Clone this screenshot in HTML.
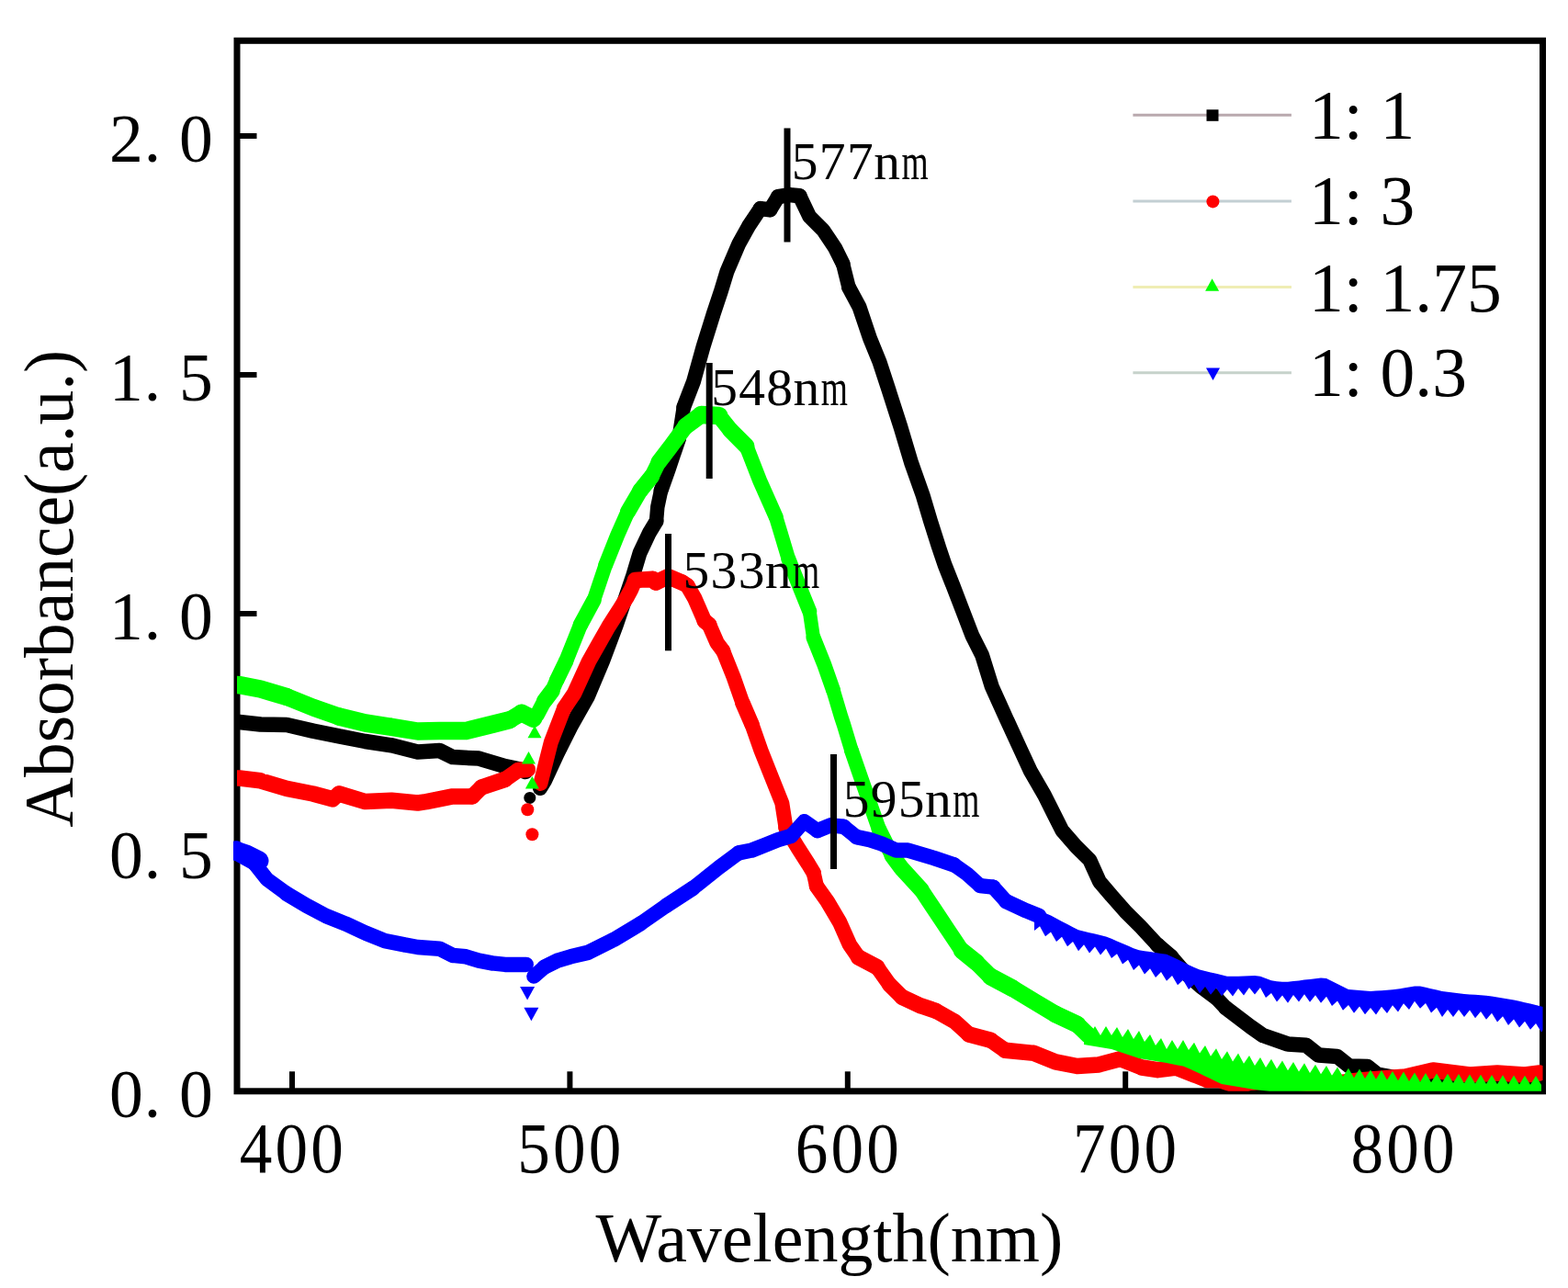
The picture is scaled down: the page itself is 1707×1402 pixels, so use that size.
<!DOCTYPE html>
<html><head><meta charset="utf-8"><title>Absorbance spectra</title>
<style>html,body{margin:0;padding:0;background:#fff;}body{width:1707px;height:1402px;overflow:hidden;}svg{display:block;}</style>
</head><body>
<svg width="1707" height="1402" viewBox="0 0 1707 1402"><defs><clipPath id="pc"><rect x="258.0" y="44.3" width="1421.5" height="1143.5"/></clipPath><clipPath id="pcb"><rect x="254" y="44.3" width="1425.5" height="1143.5"/></clipPath></defs><rect width="1707" height="1402" fill="#fff"/><rect x="258.0" y="44.3" width="1421.5" height="1143.5" fill="none" stroke="#000" stroke-width="7"/><line x1="258.0" y1="1188.0" x2="279.5" y2="1188.0" stroke="#000" stroke-width="6"/><line x1="258.0" y1="928.0" x2="279.5" y2="928.0" stroke="#000" stroke-width="6"/><line x1="258.0" y1="668.0" x2="279.5" y2="668.0" stroke="#000" stroke-width="6"/><line x1="258.0" y1="408.0" x2="279.5" y2="408.0" stroke="#000" stroke-width="6"/><line x1="258.0" y1="148.0" x2="279.5" y2="148.0" stroke="#000" stroke-width="6"/><line x1="318.0" y1="1187.8" x2="318.0" y2="1166.3" stroke="#000" stroke-width="6"/><line x1="620.4" y1="1187.8" x2="620.4" y2="1166.3" stroke="#000" stroke-width="6"/><line x1="922.8" y1="1187.8" x2="922.8" y2="1166.3" stroke="#000" stroke-width="6"/><line x1="1225.2" y1="1187.8" x2="1225.2" y2="1166.3" stroke="#000" stroke-width="6"/><line x1="1527.6" y1="1187.8" x2="1527.6" y2="1166.3" stroke="#000" stroke-width="6"/><g clip-path="url(#pc)"><path d="M258.0,786.0L260.7,786.0M260.7,786.0L283.5,788.5M283.5,788.5L312.1,789.0M312.1,789.0L340.6,795.6M340.6,795.6L369.1,801.3M369.1,801.3L397.7,807.0M397.7,807.0L426.2,811.3M426.2,811.3L454.7,818.4M454.7,818.4L478.5,817.0M478.5,817.0L492.8,824.1M492.8,824.1L521.3,825.6M521.3,825.6L549.9,834.1M549.9,834.1L564.1,837.0M564.1,837.0L572.0,840.0" fill="none" stroke="#000" stroke-width="16.5" stroke-linecap="round"/><circle cx="576.8" cy="868.4" r="6.5" fill="#000"/><path d="M714.5,567.3L715.8,551.9M715.8,551.9L719.6,533.9M738.9,478.0L744.3,443.2M917.6,287.0L924.0,312.7" fill="none" stroke="#000" stroke-width="15.5" stroke-linecap="round"/><path d="M588.0,858.0L593.5,849.0M593.5,849.0L606.9,819.9M606.9,819.9L621.2,791.3M621.2,791.3L640.0,758.0M640.0,758.0L656.0,720.0M656.0,720.0L671.0,680.0M671.0,680.0L688.8,627.7M688.8,627.7L696.5,602.0M696.5,602.0L706.8,580.2M706.8,580.2L714.5,567.3M719.6,533.9L727.3,512.1M727.3,512.1L733.8,492.8M733.8,492.8L738.9,478.0M744.3,443.2L755.0,415.4M755.0,415.4L765.7,376.9M765.7,376.9L776.4,342.6M776.4,342.6L784.9,317.0M784.9,317.0L791.4,295.6M791.4,295.6L804.2,265.6M804.2,265.6L814.9,246.3M814.9,246.3L827.7,227.1M838.4,228.2L847.0,214.2M870.5,213.2L881.2,235.6M881.2,235.6L896.2,250.6M896.2,250.6L909.1,269.9M909.1,269.9L917.6,287.0M924.0,312.7L935.5,334.1M935.5,334.1L947.0,368.3M947.0,368.3L957.5,394.0M957.5,394.0L968.0,426.1M968.0,426.1L980.5,465.0M980.5,465.0L992.0,503.5M992.0,503.5L1004.9,539.9M1004.9,539.9L1012.5,565.6M1012.5,565.6L1022.0,595.5M1022.0,595.5L1028.5,614.8M1028.5,614.8L1037.0,636.2M1037.0,636.2L1047.7,664.0M1047.7,664.0L1058.4,691.8M1058.4,691.8L1069.1,713.2M1069.1,713.2L1079.8,747.5M1079.8,747.5L1096.4,784.2M1096.4,784.2L1109.2,812.0M1109.2,812.0L1122.1,839.8M1122.1,839.8L1137.0,865.5M1137.0,865.5L1147.7,886.9M1147.7,886.9L1156.3,904.0M1156.3,904.0L1171.3,921.2M1171.3,921.2L1186.3,936.1M1186.3,936.1L1197.0,959.7M1197.0,959.7L1209.8,974.7M1209.8,974.7L1224.8,991.8M1224.8,991.8L1241.9,1008.9M1241.9,1008.9L1259.9,1028.4M1274.9,1041.2L1289.9,1058.4M1324.1,1086.2L1334.3,1097.0" fill="none" stroke="#000" stroke-width="16.0" stroke-linecap="round"/><path d="M827.7,227.1L838.4,228.2M847.0,214.2L859.8,212.1M859.8,212.1L870.5,213.2M1259.9,1028.4L1274.9,1041.2M1289.9,1058.4L1307.0,1073.3M1307.0,1073.3L1324.1,1086.2M1334.3,1097.0L1361.3,1117.5M1361.3,1117.5L1374.8,1127.0M1374.8,1127.0L1401.7,1136.4M1401.7,1136.4L1421.9,1137.7M1421.9,1137.7L1435.4,1148.5M1435.4,1148.5L1455.6,1149.9M1455.6,1149.9L1469.1,1160.6M1469.1,1160.6L1488.9,1161.1M1488.9,1161.1L1499.6,1169.6M1499.6,1169.6L1530.0,1175.0M1530.0,1175.0L1580.0,1177.0M1580.0,1177.0L1630.0,1177.0M1630.0,1177.0L1676.0,1177.0" fill="none" stroke="#000" stroke-width="16.5" stroke-linecap="round"/><path d="M362.0,869.8L369.1,864.0M514.2,866.9L524.2,857.0M549.9,848.4L564.1,838.4" fill="none" stroke="#f00" stroke-width="17.0" stroke-linecap="round"/><path d="M258.0,847.0L260.7,847.0M260.7,847.0L283.5,849.8M283.5,849.8L312.1,858.4M312.1,858.4L340.6,864.0M340.6,864.0L362.0,869.8M369.1,864.0L397.7,872.6M397.7,872.6L426.2,871.2M426.2,871.2L454.7,874.0M454.7,874.0L464.3,872.6M464.3,872.6L492.8,866.9M492.8,866.9L514.2,866.9M524.2,857.0L549.9,848.4M564.1,838.4L574.3,837.6" fill="none" stroke="#f00" stroke-width="17.5" stroke-linecap="round"/><circle cx="574.3" cy="881.2" r="7" fill="#f00"/><circle cx="579.4" cy="908.2" r="7" fill="#f00"/><path d="M588.4,853.0L599.8,808.0M599.8,808.0L614.1,771.0M787.1,708.4L798.5,736.9M798.5,736.9L808.5,765.4M818.5,788.5L828.5,817.0M828.5,817.0L839.9,845.6M839.9,845.6L851.3,874.1M851.3,874.1L855.5,901.0M885.7,950.0L889.0,964.7" fill="none" stroke="#f00" stroke-width="16.0" stroke-linecap="round"/><path d="M614.1,771.0L625.0,755.0M625.0,755.0L641.0,720.0M641.0,720.0L652.5,699.6M652.5,699.6L662.5,682.0M662.5,682.0L674.0,664.0M674.0,664.0L682.0,651.0M682.0,651.0L687.0,641.8M687.0,641.8L691.4,631.6M748.3,637.5L756.0,650.8M756.0,650.8L767.0,676.0M772.0,679.9L780.5,699.6M780.5,699.6L787.1,708.4M808.5,765.4L818.5,788.5M855.5,901.0L868.6,922.7M868.6,922.7L879.8,940.3M879.8,940.3L885.7,950.0M889.0,964.7L900.6,981.0M900.6,981.0L914.2,1004.0M914.2,1004.0L925.0,1028.4M925.0,1028.4L934.5,1042.0M954.9,1052.8L968.4,1071.8" fill="none" stroke="#f00" stroke-width="16.5" stroke-linecap="round"/><path d="M710.6,630.3L714.0,634.0M742.7,634.1L748.3,637.5M767.0,676.0L772.0,679.9M968.4,1071.8L982.0,1085.3M1018.5,1100.2L1039.2,1111.8M1039.2,1111.8L1054.9,1126.0M1078.5,1132.2L1094.2,1143.2" fill="none" stroke="#f00" stroke-width="17.0" stroke-linecap="round"/><path d="M691.4,631.6L710.6,630.3M714.0,634.0L727.3,627.7M727.3,627.7L742.7,634.1M934.5,1042.0L954.9,1052.8M982.0,1085.3L1002.3,1094.8M1002.3,1094.8L1018.5,1100.2M1054.9,1126.0L1078.5,1132.2M1094.2,1143.2L1125.5,1146.4M1125.5,1146.4L1149.1,1155.8M1149.1,1155.8L1172.6,1160.5M1172.6,1160.5L1196.2,1158.9M1196.2,1158.9L1219.7,1152.6M1219.7,1152.6L1243.2,1162.0M1243.2,1162.0L1260.2,1164.7M1260.2,1164.7L1280.4,1162.0M1280.4,1162.0L1300.6,1170.0M1300.6,1170.0L1314.1,1175.5M1314.1,1175.5L1327.6,1175.5M1327.6,1175.5L1347.8,1182.2M1347.8,1182.2L1361.3,1178.2M1361.3,1178.2L1392.3,1176.0M1392.3,1176.0L1439.5,1181.0M1439.5,1181.0L1480.0,1176.0M1480.0,1176.0L1530.0,1172.0M1530.0,1172.0L1560.0,1165.0M1560.0,1165.0L1600.0,1170.0M1600.0,1170.0L1630.0,1168.0M1630.0,1168.0L1660.0,1170.0M1660.0,1170.0L1676.0,1168.0" fill="none" stroke="#f00" stroke-width="17.5" stroke-linecap="round"/><path d="M555.0,783.6L567.8,776.0" fill="none" stroke="#00ff00" stroke-width="18.5" stroke-linecap="round"/><path d="M312.1,758.5L340.6,770.0M340.6,770.0L369.1,780.0M567.8,776.0L580.7,782.4" fill="none" stroke="#00ff00" stroke-width="19.0" stroke-linecap="round"/><path d="M258.0,745.5L260.7,745.7M260.7,745.7L283.5,750.0M283.5,750.0L312.1,758.5M369.1,780.0L397.7,787.0M397.7,787.0L426.2,791.3M426.2,791.3L454.7,796.0M454.7,796.0L478.5,795.6M478.5,795.6L507.1,795.6M507.1,795.6L535.6,788.5M535.6,788.5L555.0,783.6" fill="none" stroke="#00ff00" stroke-width="19.5" stroke-linecap="round"/><path d="M574.5,803.2 L589.5,803.2 L582.0,789.8 Z" fill="#00ff00"/><path d="M568.0,831.5 L583.0,831.5 L575.5,818.0 Z" fill="#00ff00"/><path d="M571.9,858.5 L586.9,858.5 L579.4,845.0 Z" fill="#00ff00"/><path d="M881.3,665.6L885.5,694.1" fill="none" stroke="#00ff00" stroke-width="15.0" stroke-linecap="round"/><path d="M646.4,653.4L659.3,614.9M844.6,562.6L849.9,580.0M849.9,580.0L858.4,608.5M907.0,751.2L915.5,779.7M915.5,779.7L918.4,788.5M918.4,788.5L927.0,817.0" fill="none" stroke="#00ff00" stroke-width="15.5" stroke-linecap="round"/><path d="M601.0,752.0L606.3,740.0M616.0,720.0L632.0,680.0M659.3,614.9L672.1,582.7M672.1,582.7L683.5,557.1M812.5,485.6L827.5,524.1M827.5,524.1L844.6,562.6M858.4,608.5L869.8,637.0M869.8,637.0L881.3,665.6M885.5,694.1L897.0,722.7M897.0,722.7L907.0,751.2M927.0,817.0L936.9,845.6M936.9,845.6L946.9,874.1M946.9,874.1L956.9,902.7" fill="none" stroke="#00ff00" stroke-width="16.0" stroke-linecap="round"/><path d="M584.5,778.5L592.7,763.0M606.3,740.0L616.0,720.0M632.0,680.0L646.4,653.4M709.5,518.5L717.1,503.1M956.9,902.7L971.2,931.2" fill="none" stroke="#00ff00" stroke-width="16.5" stroke-linecap="round"/><path d="M683.5,557.1L697.0,533.9M1002.8,968.4L1015.7,987.8M1015.7,987.8L1031.4,1011.4M1031.4,1011.4L1047.1,1034.9" fill="none" stroke="#00ff00" stroke-width="17.0" stroke-linecap="round"/><path d="M592.7,763.0L601.0,752.0M697.0,533.9L709.5,518.5M717.1,503.1L729.9,486.4M729.9,486.4L746.2,464.2M782.6,452.4L795.4,468.5M971.2,931.2L981.4,945.0M981.4,945.0L1002.8,968.4" fill="none" stroke="#00ff00" stroke-width="17.5" stroke-linecap="round"/><path d="M795.4,468.5L812.5,485.6M1062.8,1047.5L1078.5,1063.2M1172.6,1115.0L1185.0,1127.0" fill="none" stroke="#00ff00" stroke-width="18.0" stroke-linecap="round"/><path d="M746.2,464.2L763.3,451.4M1047.1,1034.9L1062.8,1047.5M1102.0,1075.7L1125.5,1089.9M1125.5,1089.9L1149.1,1104.0" fill="none" stroke="#00ff00" stroke-width="18.5" stroke-linecap="round"/><path d="M1078.5,1063.2L1102.0,1075.7M1149.1,1104.0L1172.6,1115.0" fill="none" stroke="#00ff00" stroke-width="19.0" stroke-linecap="round"/><path d="M763.3,451.4L782.6,452.4" fill="none" stroke="#00ff00" stroke-width="19.5" stroke-linecap="round"/><polygon points="1180.0,1117.0 1186.0,1127.0 1192.0,1117.0 1198.0,1127.0 1204.0,1117.0 1210.0,1127.0 1216.0,1118.0 1222.0,1129.0 1228.0,1120.0 1234.0,1131.0 1240.0,1122.0 1246.0,1134.0 1252.0,1126.0 1258.0,1138.0 1264.0,1130.0 1270.0,1142.0 1276.0,1132.0 1282.0,1142.0 1288.0,1132.0 1294.0,1143.1 1300.0,1134.8 1306.0,1146.4 1312.0,1138.0 1318.0,1149.7 1324.0,1141.3 1330.0,1153.0 1336.0,1144.2 1342.0,1155.4 1348.0,1146.6 1354.0,1157.8 1360.0,1149.0 1366.0,1160.1 1372.0,1151.0 1378.0,1161.9 1384.0,1152.7 1390.0,1163.6 1396.0,1154.4 1402.0,1165.2 1408.0,1155.9 1414.0,1166.6 1420.0,1157.3 1426.0,1168.0 1432.0,1158.7 1438.0,1169.3 1444.0,1160.0 1450.0,1170.7 1456.0,1161.4 1462.0,1172.1 1468.0,1162.8 1474.0,1173.2 1480.0,1163.6 1486.0,1174.0 1492.0,1164.4 1498.0,1174.8 1504.0,1165.1 1510.0,1175.5 1516.0,1165.9 1522.0,1176.2 1528.0,1166.6 1534.0,1177.0 1540.0,1167.4 1546.0,1177.8 1552.0,1168.1 1558.0,1178.2 1564.0,1168.4 1570.0,1178.6 1576.0,1168.7 1582.0,1178.9 1588.0,1169.1 1594.0,1179.3 1600.0,1169.4 1606.0,1179.6 1612.0,1169.8 1618.0,1179.9 1624.0,1170.1 1630.0,1180.2 1636.0,1170.3 1642.0,1180.4 1648.0,1170.5 1654.0,1180.6 1660.0,1170.7 1666.0,1180.8 1672.0,1170.9 1678.0,1181.0 1678.0,1190.0 1672.0,1190.0 1666.0,1190.0 1660.0,1190.0 1654.0,1190.0 1648.0,1190.0 1642.0,1190.0 1636.0,1190.0 1630.0,1190.0 1624.0,1190.0 1618.0,1190.0 1612.0,1190.0 1606.0,1190.0 1600.0,1190.0 1594.0,1190.0 1588.0,1190.0 1582.0,1190.0 1576.0,1190.0 1570.0,1190.0 1564.0,1190.0 1558.0,1190.0 1552.0,1190.0 1546.0,1190.0 1540.0,1190.0 1534.0,1190.0 1528.0,1190.0 1522.0,1190.0 1516.0,1190.0 1510.0,1190.0 1504.0,1190.0 1498.0,1190.0 1492.0,1190.0 1486.0,1190.0 1480.0,1190.0 1474.0,1190.0 1468.0,1190.0 1462.0,1190.0 1456.0,1190.0 1450.0,1190.0 1444.0,1190.0 1438.0,1190.0 1432.0,1190.0 1426.0,1190.0 1420.0,1190.0 1414.0,1190.0 1408.0,1190.0 1402.0,1190.0 1396.0,1189.5 1390.0,1188.9 1384.0,1188.2 1378.0,1187.5 1372.0,1186.8 1366.0,1186.1 1360.0,1185.1 1354.0,1184.1 1348.0,1183.1 1342.0,1182.1 1336.0,1181.0 1330.0,1180.0 1324.0,1177.2 1318.0,1174.3 1312.0,1171.5 1306.0,1168.6 1300.0,1165.8 1294.0,1162.9 1288.0,1160.6 1282.0,1159.4 1276.0,1158.2 1270.0,1157.0 1264.0,1156.0 1258.0,1155.0 1252.0,1154.0 1246.0,1153.0 1240.0,1152.0 1234.0,1150.0 1228.0,1148.0 1222.0,1146.0 1216.0,1144.0 1210.0,1142.0 1204.0,1141.0 1198.0,1140.0 1192.0,1139.0 1186.0,1138.0 1180.0,1137.0" fill="#00ff00"/></g><g clip-path="url(#pcb)"><path d="M258.0,923.0L262.0,931.0" fill="none" stroke="#0000ff" stroke-width="15.5" stroke-linecap="round"/><path d="M276.4,939.0L290.7,957.1M290.7,957.1L312.1,972.8" fill="none" stroke="#0000ff" stroke-width="16.0" stroke-linecap="round"/><path d="M262.0,931.0L276.4,939.0M312.1,972.8L333.5,985.6M333.5,985.6L354.9,997.0M354.9,997.0L376.3,1005.6M376.3,1005.6L397.7,1015.5M397.7,1015.5L419.0,1024.1M419.0,1024.1L440.4,1028.4M440.4,1028.4L454.7,1031.0M454.7,1031.0L478.5,1032.7M478.5,1032.7L492.8,1039.9M492.8,1039.9L507.1,1041.3M507.1,1041.3L521.3,1045.6M521.3,1045.6L535.6,1048.4M535.6,1048.4L549.9,1049.9M549.9,1049.9L572.7,1049.9" fill="none" stroke="#0000ff" stroke-width="16.5" stroke-linecap="round"/><polyline points="256.0,926.0 268.0,930.0 282.0,937.0" fill="none" stroke="#0000ff" stroke-width="21" stroke-linejoin="round" stroke-linecap="round"/><path d="M566.1,1074.0 L582.1,1074.0 L574.1,1088.4 Z" fill="#0000ff"/><path d="M570.4,1096.8 L586.4,1096.8 L578.4,1111.2 Z" fill="#0000ff"/><path d="M581.2,1062.7L592.7,1052.7M697.1,1005.5L725.6,985.6M754.1,967.0L782.7,944.2M782.7,944.2L804.3,928.3M861.3,909.8L875.6,894.0M875.6,894.0L889.9,904.1M918.4,899.8L932.7,911.2M1038.5,941.3L1052.7,951.3M1052.7,951.3L1067.0,964.1M1081.3,965.6L1095.5,981.3" fill="none" stroke="#0000ff" stroke-width="16.0" stroke-linecap="round"/><path d="M592.7,1052.7L606.9,1045.6M606.9,1045.6L621.2,1041.3M621.2,1041.3L640.0,1036.9M640.0,1036.9L668.5,1022.7M668.5,1022.7L697.1,1005.5M725.6,985.6L754.1,967.0M804.3,928.3L818.5,925.5M818.5,925.5L832.8,919.8M832.8,919.8L847.1,914.1M847.1,914.1L861.3,909.8M889.9,904.1L904.1,898.4M904.1,898.4L918.4,899.8M932.7,911.2L946.9,914.1M946.9,914.1L960.0,918.5M960.0,918.5L975.5,925.5M975.5,925.5L988.5,925.6M988.5,925.6L1017.1,934.2M1017.1,934.2L1038.5,941.3M1067.0,964.1L1081.3,965.6M1095.5,981.3L1116.9,991.2M1116.9,991.2L1131.2,997.0" fill="none" stroke="#0000ff" stroke-width="16.5" stroke-linecap="round"/><polygon points="1126.0,989.0 1132.0,991.5 1138.0,994.1 1144.0,996.6 1150.0,999.7 1156.0,1002.9 1162.0,1006.1 1168.0,1009.3 1174.0,1012.2 1180.0,1013.7 1186.0,1015.2 1192.0,1016.6 1198.0,1018.1 1204.0,1019.5 1210.0,1021.8 1216.0,1024.4 1222.0,1027.0 1228.0,1029.6 1234.0,1032.2 1240.0,1034.3 1246.0,1035.2 1252.0,1036.1 1258.0,1037.0 1264.0,1037.9 1270.0,1038.8 1276.0,1041.4 1282.0,1044.3 1288.0,1047.2 1294.0,1050.2 1300.0,1053.1 1306.0,1055.5 1312.0,1056.9 1318.0,1058.4 1324.0,1059.8 1330.0,1061.3 1336.0,1062.8 1342.0,1062.8 1348.0,1062.7 1354.0,1062.5 1360.0,1062.3 1366.0,1062.1 1372.0,1062.8 1378.0,1065.0 1384.0,1067.2 1390.0,1068.3 1396.0,1068.7 1402.0,1068.8 1408.0,1068.1 1414.0,1067.4 1420.0,1066.6 1426.0,1065.9 1432.0,1065.2 1438.0,1064.5 1444.0,1065.0 1450.0,1068.0 1456.0,1071.0 1462.0,1074.0 1468.0,1077.0 1474.0,1077.5 1480.0,1078.0 1486.0,1078.4 1492.0,1078.9 1498.0,1078.6 1504.0,1078.2 1510.0,1077.7 1516.0,1077.2 1522.0,1076.5 1528.0,1075.6 1534.0,1074.6 1540.0,1073.6 1546.0,1073.5 1552.0,1074.8 1558.0,1076.2 1564.0,1077.6 1570.0,1079.0 1576.0,1079.7 1582.0,1080.4 1588.0,1081.2 1594.0,1081.9 1600.0,1082.4 1606.0,1082.8 1612.0,1083.3 1618.0,1083.8 1624.0,1084.5 1630.0,1085.4 1636.0,1086.4 1642.0,1087.4 1648.0,1088.5 1654.0,1089.8 1660.0,1091.2 1666.0,1092.6 1672.0,1094.0 1678.0,1095.5 1684.0,1097.0 1684.0,1117.0 1678.0,1123.5 1672.0,1114.0 1666.0,1120.8 1660.0,1111.7 1654.0,1118.5 1648.0,1109.4 1642.0,1115.9 1636.0,1106.2 1630.0,1112.5 1624.0,1102.8 1618.0,1109.7 1612.0,1101.0 1606.0,1108.3 1600.0,1099.6 1594.0,1107.0 1588.0,1099.0 1582.0,1107.0 1576.0,1099.0 1570.0,1107.0 1564.0,1096.7 1558.0,1102.4 1552.0,1092.1 1546.0,1097.8 1540.0,1089.8 1534.0,1099.0 1528.0,1092.2 1522.0,1101.4 1516.0,1094.3 1510.0,1103.0 1504.0,1095.7 1498.0,1104.4 1492.0,1096.9 1486.0,1104.2 1480.0,1095.4 1474.0,1102.7 1468.0,1094.0 1462.0,1099.7 1456.0,1089.4 1450.0,1095.1 1444.0,1084.8 1438.0,1091.7 1432.0,1083.2 1426.0,1090.7 1420.0,1082.2 1414.0,1090.4 1408.0,1083.1 1402.0,1091.8 1396.0,1083.4 1390.0,1090.6 1384.0,1081.0 1378.0,1086.0 1372.0,1075.0 1366.0,1082.4 1360.0,1074.9 1354.0,1083.5 1348.0,1076.0 1342.0,1084.5 1336.0,1076.9 1330.0,1084.2 1324.0,1075.4 1318.0,1082.7 1312.0,1074.0 1306.0,1081.2 1300.0,1071.4 1294.0,1077.1 1288.0,1066.7 1282.0,1072.3 1276.0,1062.0 1270.0,1067.7 1264.0,1057.9 1258.0,1064.1 1252.0,1054.2 1246.0,1060.4 1240.0,1050.6 1234.0,1055.9 1228.0,1044.7 1222.0,1049.5 1216.0,1038.3 1210.0,1043.1 1204.0,1032.6 1198.0,1039.5 1192.0,1030.5 1186.0,1037.4 1180.0,1028.3 1174.0,1035.2 1168.0,1024.9 1162.0,1030.3 1156.0,1019.7 1150.0,1025.1 1144.0,1014.5 1138.0,1019.3 1132.0,1008.2 1126.0,1013.0" fill="#0000ff"/></g><line x1="857" y1="139.5" x2="857" y2="263.5" stroke="#000" stroke-width="7"/><line x1="772.2" y1="395" x2="772.2" y2="521" stroke="#000" stroke-width="7"/><line x1="727.5" y1="581" x2="727.5" y2="708.3" stroke="#000" stroke-width="7"/><line x1="907.5" y1="821" x2="907.5" y2="946" stroke="#000" stroke-width="7"/><text x="137.4 166 213.5" y="175.9" text-anchor="middle" style="font-family:'Liberation Serif','Times New Roman',serif;font-size:73.6px">2.0</text><text x="137.4 166 213.5" y="435.9" text-anchor="middle" style="font-family:'Liberation Serif','Times New Roman',serif;font-size:73.6px">1.5</text><text x="137.4 166 213.5" y="695.9" text-anchor="middle" style="font-family:'Liberation Serif','Times New Roman',serif;font-size:73.6px">1.0</text><text x="137.4 166 213.5" y="955.9" text-anchor="middle" style="font-family:'Liberation Serif','Times New Roman',serif;font-size:73.6px">0.5</text><text x="137.4 166 213.5" y="1215.9" text-anchor="middle" style="font-family:'Liberation Serif','Times New Roman',serif;font-size:73.6px">0.0</text><text transform="translate(317.4,1276) scale(0.91,1)" x="-42.6 0.0 42.6" y="0" text-anchor="middle" style="font-family:'Liberation Serif','Times New Roman',serif;font-size:78.2px">400</text><text transform="translate(619.8,1276) scale(0.91,1)" x="-42.6 0.0 42.6" y="0" text-anchor="middle" style="font-family:'Liberation Serif','Times New Roman',serif;font-size:78.2px">500</text><text transform="translate(922.2,1276) scale(0.91,1)" x="-42.6 0.0 42.6" y="0" text-anchor="middle" style="font-family:'Liberation Serif','Times New Roman',serif;font-size:78.2px">600</text><text transform="translate(1224.6,1276) scale(0.91,1)" x="-42.6 0.0 42.6" y="0" text-anchor="middle" style="font-family:'Liberation Serif','Times New Roman',serif;font-size:78.2px">700</text><text transform="translate(1527.0,1276) scale(0.91,1)" x="-42.6 0.0 42.6" y="0" text-anchor="middle" style="font-family:'Liberation Serif','Times New Roman',serif;font-size:78.2px">800</text><text x="902.9" y="1373" text-anchor="middle" style="font-family:'Liberation Serif','Times New Roman',serif;font-size:76px">Wavelength(nm)</text><text transform="translate(79,640.7) rotate(-90)" x="0" y="0" text-anchor="middle" style="font-family:'Liberation Serif','Times New Roman',serif;font-size:75.5px">Absorbance(a.u.)</text><text y="194.7" style="font-family:'Liberation Serif','Times New Roman',serif;font-size:57.5px"><tspan x="876.2 906.2 936.4 965.5" text-anchor="middle">577n</tspan><tspan x="981.5" textLength="29.2" lengthAdjust="spacingAndGlyphs">m</tspan></text><text y="441" style="font-family:'Liberation Serif','Times New Roman',serif;font-size:57.5px"><tspan x="788.5 818.5 848.7 877.8" text-anchor="middle">548n</tspan><tspan x="893.8" textLength="29.2" lengthAdjust="spacingAndGlyphs">m</tspan></text><text y="639.7" style="font-family:'Liberation Serif','Times New Roman',serif;font-size:57.5px"><tspan x="757.8 787.8 818.0 847.1" text-anchor="middle">533n</tspan><tspan x="863.1" textLength="29.2" lengthAdjust="spacingAndGlyphs">m</tspan></text><text y="889" style="font-family:'Liberation Serif','Times New Roman',serif;font-size:57.5px"><tspan x="932.0 962.0 992.2 1021.3" text-anchor="middle">595n</tspan><tspan x="1037.3" textLength="29.2" lengthAdjust="spacingAndGlyphs">m</tspan></text><line x1="1233.4" y1="125.3" x2="1405.9" y2="125.3" stroke="#b9a9ae" stroke-width="3"/><rect x="1313.5" y="119.3" width="13" height="12.5" fill="#000"/><text x="1425" y="151" style="font-family:'Liberation Serif','Times New Roman',serif;font-size:75.5px">1: 1</text><line x1="1233.4" y1="218.9" x2="1405.9" y2="218.9" stroke="#c3cfd3" stroke-width="3"/><circle cx="1320.4" cy="219.4" r="7" fill="#f00"/><text x="1425" y="243.8" style="font-family:'Liberation Serif','Times New Roman',serif;font-size:75.5px">1: 3</text><line x1="1233.4" y1="312.5" x2="1405.9" y2="312.5" stroke="#efedb4" stroke-width="3"/><path d="M1312.1,316.8 L1327.1,316.8 L1319.6,303.2 Z" fill="#00ff00"/><text x="1425" y="338.5" style="font-family:'Liberation Serif','Times New Roman',serif;font-size:75.5px">1: 1.75</text><line x1="1233.4" y1="405.8" x2="1405.9" y2="405.8" stroke="#c6d2cb" stroke-width="3"/><path d="M1313.0,400.6 L1328.0,400.6 L1320.5,414.1 Z" fill="#0000ff"/><text x="1425" y="430.5" style="font-family:'Liberation Serif','Times New Roman',serif;font-size:75.5px">1: 0.3</text></svg>
</body></html>
